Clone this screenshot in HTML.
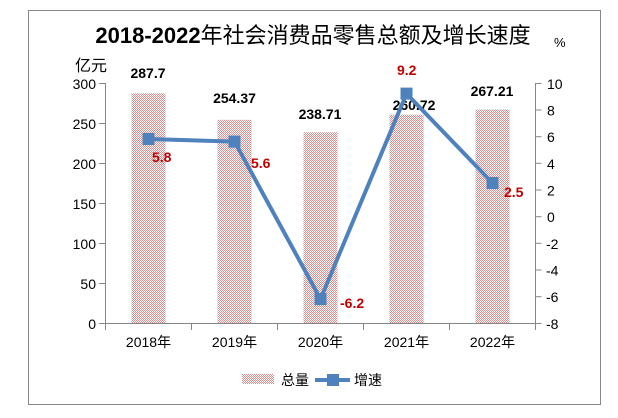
<!DOCTYPE html>
<html><head><meta charset="utf-8"><style>
html,body{margin:0;padding:0;background:#fff;}
svg{display:block;}
text{font-family:"Liberation Sans","Noto Sans CJK SC",sans-serif;}
</style></head><body>
<svg width="618" height="418" viewBox="0 0 618 418" xmlns="http://www.w3.org/2000/svg">
<defs>
<pattern id="chk" width="2" height="2" patternUnits="userSpaceOnUse">
<rect width="2" height="2" fill="#fff"/>
<rect x="0" y="0" width="1" height="1" fill="#DA8C8C" shape-rendering="crispEdges"/>
<rect x="1" y="1" width="1" height="1" fill="#DA8C8C" shape-rendering="crispEdges"/>
</pattern>
</defs>
<rect x="0" y="0" width="618" height="418" fill="#fff"/>
<rect x="28.5" y="10.5" width="572" height="394" fill="none" stroke="#878787" stroke-width="1"/>

<text x="313" y="43" text-anchor="middle" font-size="22" fill="#000"><tspan font-weight="bold">2018-2022</tspan><tspan>年社会消费品零售总额及增长速度</tspan></text>
<text x="75" y="71" font-size="16" fill="#000">亿元</text>
<text x="554" y="47" font-size="13" fill="#000">%</text>

<!-- bars -->
<g fill="url(#chk)">
<rect x="131.5" y="93.3" width="34" height="230.2"/>
<rect x="217.5" y="119.8" width="34" height="203.7"/>
<rect x="303.5" y="132.3" width="34" height="191.2"/>
<rect x="389.5" y="114.7" width="34" height="208.8"/>
<rect x="475.5" y="109.5" width="34" height="214"/>
</g>

<!-- axes -->
<g stroke="#868686" stroke-width="1" fill="none">
<line x1="105.5" y1="83" x2="105.5" y2="323.5"/>
<line x1="535.5" y1="83" x2="535.5" y2="323.5"/>
<line x1="105.5" y1="323.5" x2="535.5" y2="323.5"/>
<line x1="99" y1="83.5" x2="105.5" y2="83.5"/>
<line x1="99" y1="123.5" x2="105.5" y2="123.5"/>
<line x1="99" y1="163.5" x2="105.5" y2="163.5"/>
<line x1="99" y1="203.5" x2="105.5" y2="203.5"/>
<line x1="99" y1="243.5" x2="105.5" y2="243.5"/>
<line x1="99" y1="283.5" x2="105.5" y2="283.5"/>
<line x1="99" y1="323.5" x2="105.5" y2="323.5"/>
<line x1="535.5" y1="83.5" x2="541.5" y2="83.5"/>
<line x1="535.5" y1="110" x2="541.5" y2="110"/>
<line x1="535.5" y1="136.7" x2="541.5" y2="136.7"/>
<line x1="535.5" y1="163.3" x2="541.5" y2="163.3"/>
<line x1="535.5" y1="190" x2="541.5" y2="190"/>
<line x1="535.5" y1="216.7" x2="541.5" y2="216.7"/>
<line x1="535.5" y1="243.3" x2="541.5" y2="243.3"/>
<line x1="535.5" y1="270" x2="541.5" y2="270"/>
<line x1="535.5" y1="296.7" x2="541.5" y2="296.7"/>
<line x1="535.5" y1="323.5" x2="541.5" y2="323.5"/>
<line x1="105.5" y1="323.5" x2="105.5" y2="330"/>
<line x1="191.5" y1="323.5" x2="191.5" y2="330"/>
<line x1="277.5" y1="323.5" x2="277.5" y2="330"/>
<line x1="363.5" y1="323.5" x2="363.5" y2="330"/>
<line x1="449.5" y1="323.5" x2="449.5" y2="330"/>
<line x1="535.5" y1="323.5" x2="535.5" y2="330"/>
</g>

<!-- left tick labels -->
<g font-size="14" fill="#000" text-anchor="end">
<text x="96" y="89">300</text>
<text x="96" y="129">250</text>
<text x="96" y="169">200</text>
<text x="96" y="209">150</text>
<text x="96" y="249">100</text>
<text x="96" y="289">50</text>
<text x="96" y="329">0</text>
</g>
<!-- right tick labels -->
<g font-size="14" fill="#000">
<text x="547" y="89">10</text>
<text x="547" y="115.5">8</text>
<text x="547" y="142">6</text>
<text x="547" y="169">4</text>
<text x="547" y="195.5">2</text>
<text x="547" y="222">0</text>
<text x="546" y="249">-2</text>
<text x="546" y="275.5">-4</text>
<text x="546" y="302">-6</text>
<text x="546" y="329">-8</text>
</g>
<!-- x labels -->
<g font-size="14" fill="#000" text-anchor="middle">
<text x="148.5" y="347">2018年</text>
<text x="234.5" y="347">2019年</text>
<text x="320.5" y="347">2020年</text>
<text x="406.5" y="347">2021年</text>
<text x="492.5" y="347">2022年</text>
</g>

<!-- value labels -->
<g font-size="14" font-weight="bold" fill="#000" text-anchor="middle">
<text x="148" y="78">287.7</text>
<text x="234.5" y="103">254.37</text>
<text x="320" y="119">238.71</text>
<text x="414" y="110">260.72</text>
<text x="492" y="96">267.21</text>
</g>

<!-- line -->
<polyline points="148.5,139 234.5,141.6 320.5,299 406.5,93.6 492.5,183" fill="none" stroke="#4F81BD" stroke-width="4" stroke-linejoin="round"/>
<g fill="#4F81BD">
<rect x="142.5" y="133" width="12" height="12"/>
<rect x="228.5" y="135.6" width="12" height="12"/>
<rect x="314.5" y="293" width="12" height="12"/>
<rect x="400.5" y="87.6" width="12" height="12"/>
<rect x="486.5" y="177" width="12" height="12"/>
</g>

<!-- red labels -->
<g font-size="14" font-weight="bold" fill="#C00000">
<text x="152" y="162">5.8</text>
<text x="251" y="168">5.6</text>
<text x="340" y="308">-6.2</text>
<text x="397" y="75">9.2</text>
<text x="504" y="197">2.5</text>
</g>

<!-- legend -->
<rect x="242" y="374" width="32" height="10" fill="url(#chk)"/>
<text x="281" y="385" font-size="14" fill="#000">总量</text>
<line x1="315" y1="380" x2="350" y2="380" stroke="#4F81BD" stroke-width="4"/>
<rect x="327" y="374" width="12" height="12" fill="#4F81BD"/>
<text x="354" y="385" font-size="14" fill="#000">增速</text>
</svg>
</body></html>
